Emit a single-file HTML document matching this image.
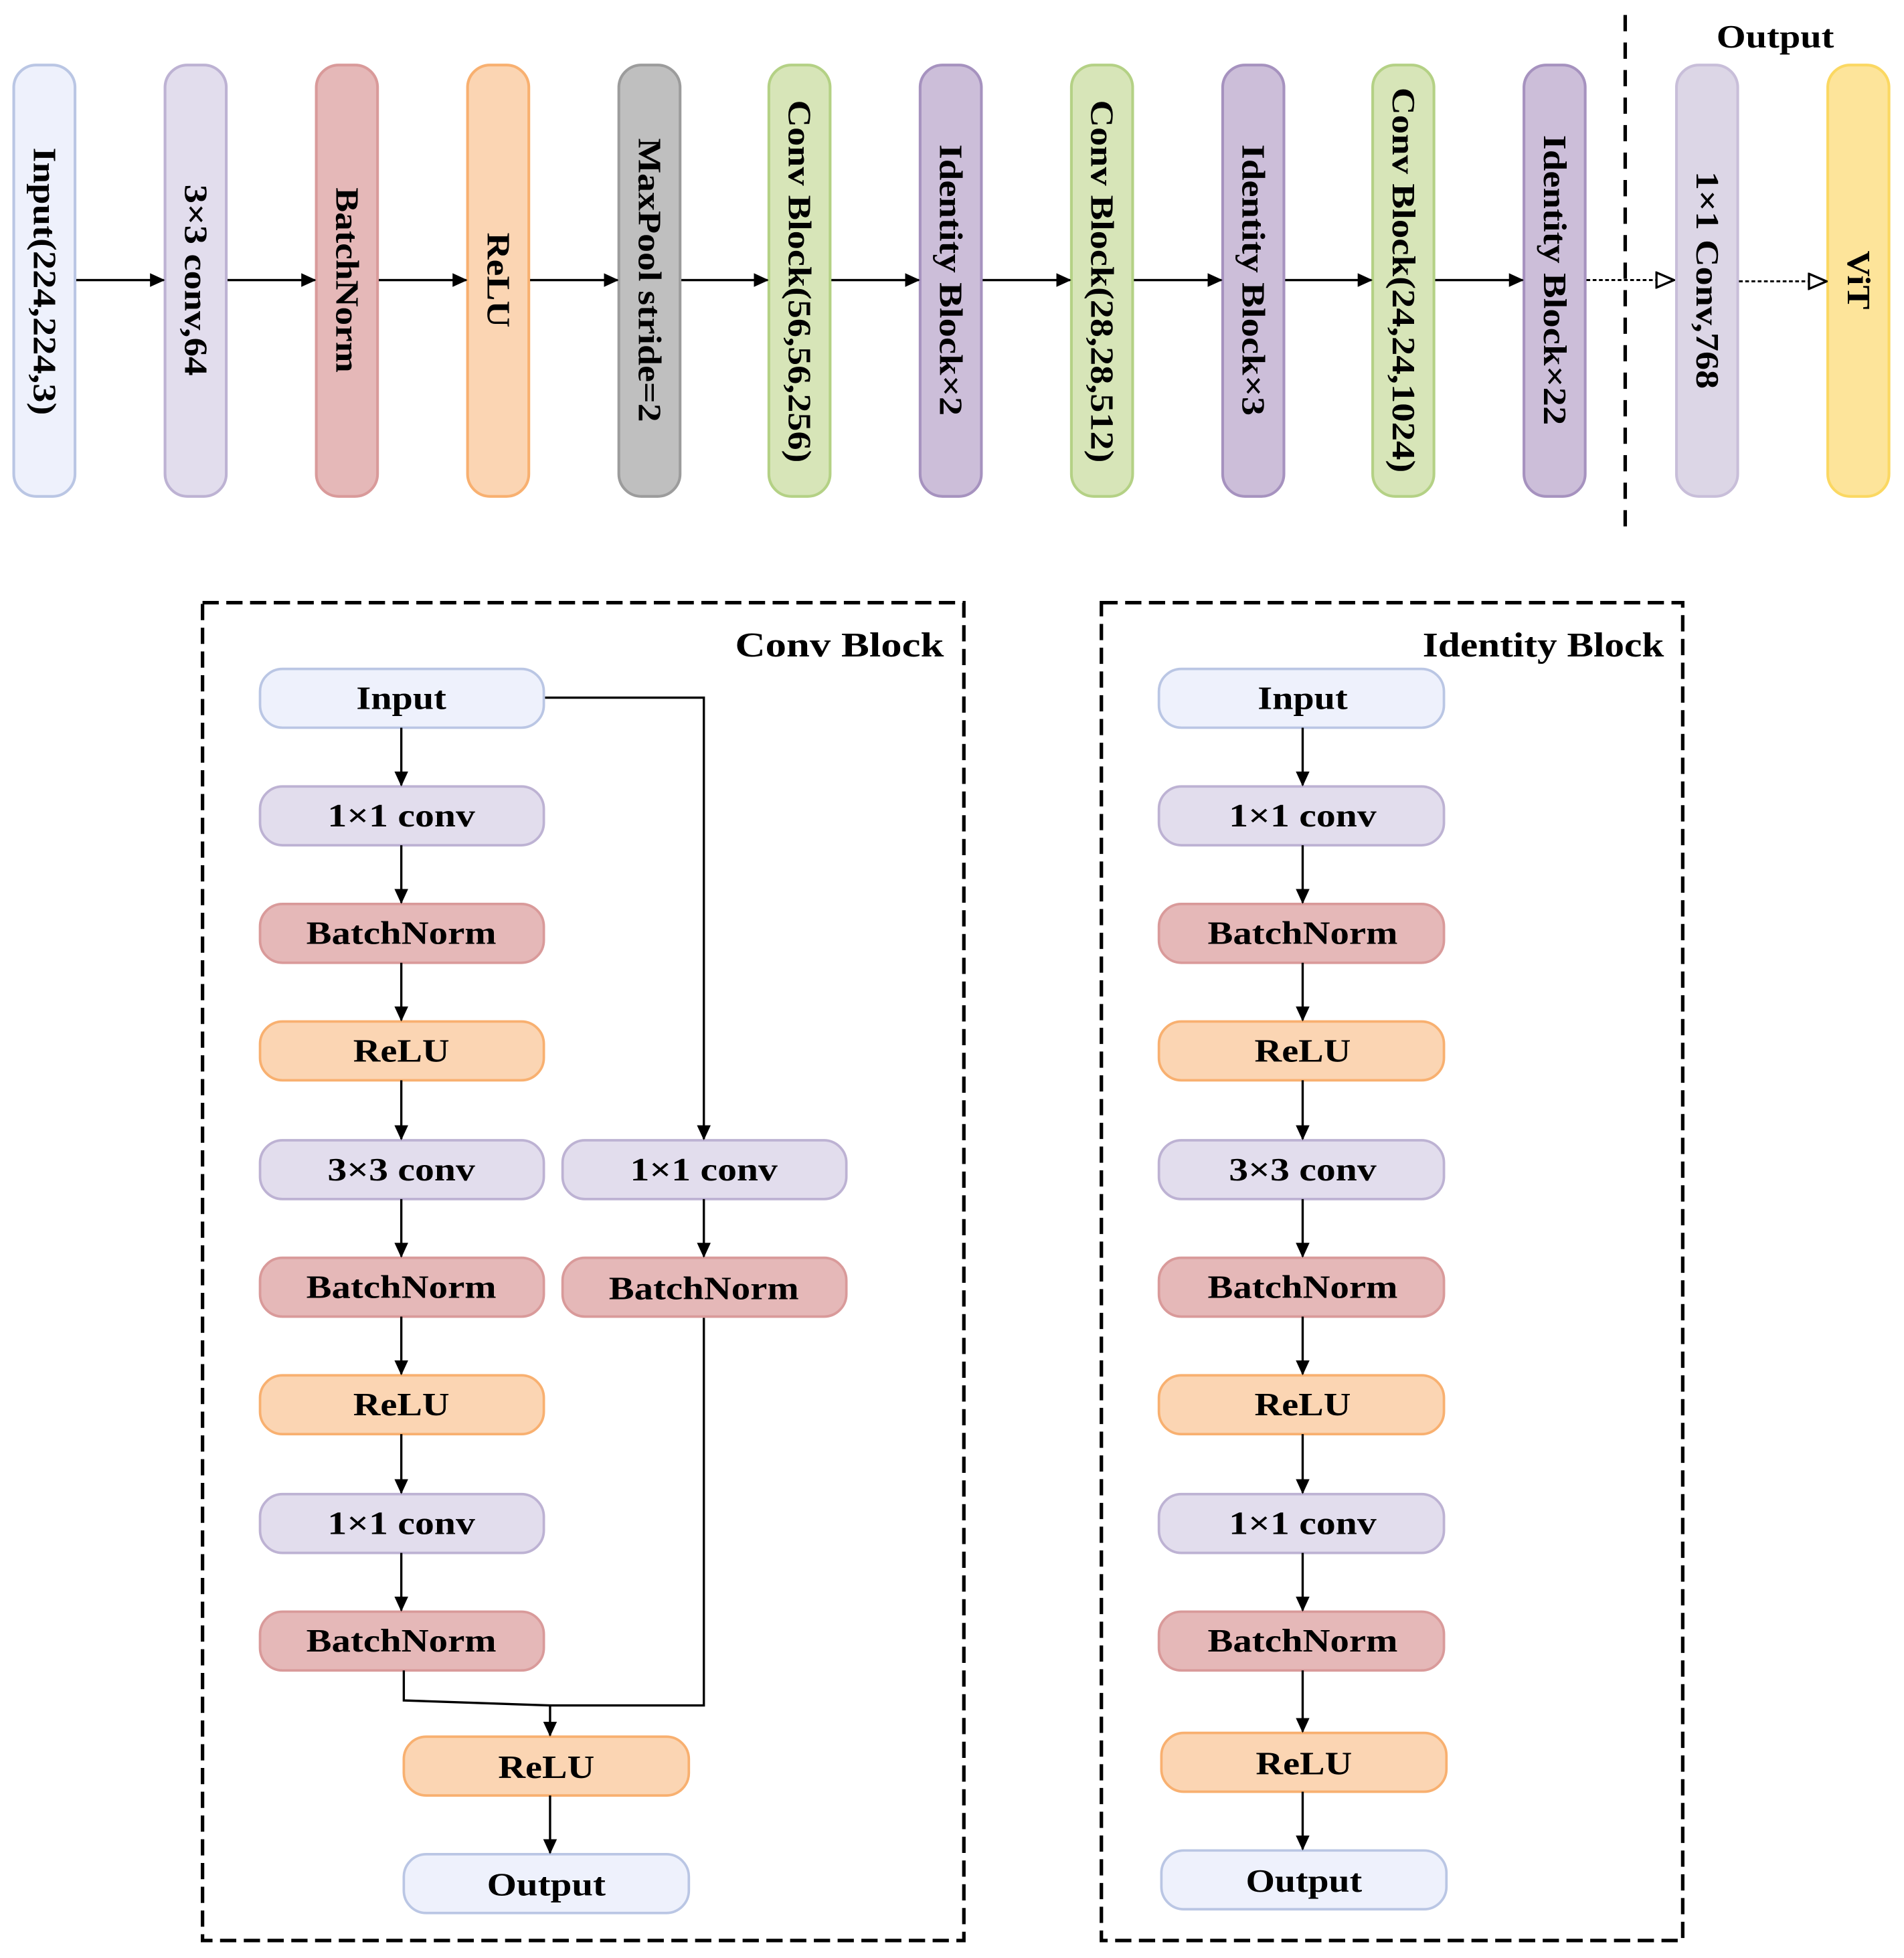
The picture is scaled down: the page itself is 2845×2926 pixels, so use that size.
<!DOCTYPE html>
<html><head><meta charset="utf-8"><style>
html,body{margin:0;padding:0;background:#fff}
svg{display:block}
text{font-family:"Liberation Serif",serif;font-weight:bold;fill:#000}
</style></head><body>
<svg width="2845" height="2926" viewBox="0 0 1523 1566" preserveAspectRatio="none" xmlns="http://www.w3.org/2000/svg">
<defs>
<marker id="a" markerWidth="12" markerHeight="12" refX="11" refY="6" orient="auto" markerUnits="userSpaceOnUse" viewBox="0 0 12 12"><path d="M0,0.5 L12,6 L0,11.5 z" fill="#000"/></marker>
<marker id="h" markerWidth="16" markerHeight="14" refX="15" refY="7" orient="auto" markerUnits="userSpaceOnUse" viewBox="0 0 16 14"><path d="M1,1 L15,7 L1,13 z" fill="#fff" stroke="#000" stroke-width="1.8"/></marker>
</defs>
<g stroke-width="2.2">
<rect x="11" y="52" width="49" height="345" rx="18" fill="#eef1fc" stroke="#bac6e4"/>
<rect x="132" y="52" width="49" height="345" rx="18" fill="#e2dded" stroke="#bdb2d3"/>
<rect x="253" y="52" width="49" height="345" rx="18" fill="#e5b8b8" stroke="#d99a9a"/>
<rect x="374" y="52" width="49" height="345" rx="18" fill="#fbd5b3" stroke="#f8b070"/>
<rect x="495" y="52" width="49" height="345" rx="18" fill="#bfbfbf" stroke="#9c9c9c"/>
<rect x="615" y="52" width="49" height="345" rx="18" fill="#d7e5b8" stroke="#b4d185"/>
<rect x="736" y="52" width="49" height="345" rx="18" fill="#ccbed9" stroke="#a692bf"/>
<rect x="857" y="52" width="49" height="345" rx="18" fill="#d7e5b8" stroke="#b4d185"/>
<rect x="978" y="52" width="49" height="345" rx="18" fill="#ccbed9" stroke="#a692bf"/>
<rect x="1098" y="52" width="49" height="345" rx="18" fill="#d7e5b8" stroke="#b4d185"/>
<rect x="1219" y="52" width="49" height="345" rx="18" fill="#ccbed9" stroke="#a692bf"/>
<rect x="1341" y="52" width="49" height="345" rx="18" fill="#dcd6e6" stroke="#c8bed9"/>
<rect x="1462" y="52" width="49" height="345" rx="18" fill="#fde49a" stroke="#fbd862"/>
</g>
<g stroke="#000" stroke-width="1.8" marker-end="url(#a)">
<line x1="61" y1="224" x2="131" y2="224"/>
<line x1="182" y1="224" x2="252" y2="224"/>
<line x1="303" y1="224" x2="373" y2="224"/>
<line x1="424" y1="224" x2="494" y2="224"/>
<line x1="545" y1="224" x2="614" y2="224"/>
<line x1="665" y1="224" x2="735" y2="224"/>
<line x1="786" y1="224" x2="856" y2="224"/>
<line x1="907" y1="224" x2="977" y2="224"/>
<line x1="1028" y1="224" x2="1097" y2="224"/>
<line x1="1148" y1="224" x2="1218" y2="224"/>
</g>
<g stroke="#000" stroke-width="1.6" stroke-dasharray="3,2" fill="none" marker-end="url(#h)">
<line x1="1269" y1="224" x2="1339" y2="224"/>
<line x1="1391" y1="225" x2="1461" y2="225"/>
</g>
<line x1="1300" y1="12" x2="1300" y2="425" stroke="#000" stroke-width="2.8" stroke-dasharray="13,9"/>
<text x="1420" y="38" font-size="26" text-anchor="middle" textLength="94" lengthAdjust="spacingAndGlyphs">Output</text>
<g font-size="26" text-anchor="middle" dominant-baseline="central">
<text transform="translate(35.5,225) rotate(90)" textLength="214" lengthAdjust="spacingAndGlyphs">Input(224,224,3)</text>
<text transform="translate(156.5,224) rotate(90)" textLength="153" lengthAdjust="spacingAndGlyphs">3×3 conv,64</text>
<text transform="translate(277.5,224) rotate(90)" textLength="148" lengthAdjust="spacingAndGlyphs">BatchNorm</text>
<text transform="translate(398.5,224) rotate(90)" textLength="76" lengthAdjust="spacingAndGlyphs">ReLU</text>
<text transform="translate(519.5,224) rotate(90)" textLength="227" lengthAdjust="spacingAndGlyphs">MaxPool stride=2</text>
<text transform="translate(639.5,225) rotate(90)" textLength="290" lengthAdjust="spacingAndGlyphs">Conv Block(56,56,256)</text>
<text transform="translate(760.5,224) rotate(90)" textLength="217" lengthAdjust="spacingAndGlyphs">Identity Block×2</text>
<text transform="translate(881.5,225) rotate(90)" textLength="290" lengthAdjust="spacingAndGlyphs">Conv Block(28,28,512)</text>
<text transform="translate(1002.5,224) rotate(90)" textLength="217" lengthAdjust="spacingAndGlyphs">Identity Block×3</text>
<text transform="translate(1122.5,224) rotate(90)" textLength="308" lengthAdjust="spacingAndGlyphs">Conv Block(24,24,1024)</text>
<text transform="translate(1243.5,224) rotate(90)" textLength="232" lengthAdjust="spacingAndGlyphs">Identity Block×22</text>
<text transform="translate(1365.5,224) rotate(90)" textLength="174" lengthAdjust="spacingAndGlyphs" font-weight="normal">1×1 Conv,768</text>
<text transform="translate(1486.5,224) rotate(90)" textLength="47" lengthAdjust="spacingAndGlyphs">ViT</text>
</g>

<!-- Conv Block -->
<rect x="162" y="482" width="609" height="1070" fill="none" stroke="#000" stroke-width="2.8" stroke-dasharray="13,6"/>
<text x="755" y="525" font-size="28" text-anchor="end" textLength="167" lengthAdjust="spacingAndGlyphs">Conv Block</text>
<g stroke-width="2">
<rect x="208" y="535" width="227" height="47" rx="18" fill="#eef1fc" stroke="#bac6e4"/>
<rect x="208" y="629" width="227" height="47" rx="18" fill="#e2dded" stroke="#bdb2d3"/>
<rect x="208" y="723" width="227" height="47" rx="18" fill="#e5b8b8" stroke="#d99a9a"/>
<rect x="208" y="817" width="227" height="47" rx="18" fill="#fbd5b3" stroke="#f8b070"/>
<rect x="208" y="912" width="227" height="47" rx="18" fill="#e2dded" stroke="#bdb2d3"/>
<rect x="208" y="1006" width="227" height="47" rx="18" fill="#e5b8b8" stroke="#d99a9a"/>
<rect x="208" y="1100" width="227" height="47" rx="18" fill="#fbd5b3" stroke="#f8b070"/>
<rect x="208" y="1195" width="227" height="47" rx="18" fill="#e2dded" stroke="#bdb2d3"/>
<rect x="208" y="1289" width="227" height="47" rx="18" fill="#e5b8b8" stroke="#d99a9a"/>
<rect x="450" y="912" width="227" height="47" rx="18" fill="#e2dded" stroke="#bdb2d3"/>
<rect x="450" y="1006" width="227" height="47" rx="18" fill="#e5b8b8" stroke="#d99a9a"/>
<rect x="323" y="1389" width="228" height="47" rx="18" fill="#fbd5b3" stroke="#f8b070"/>
<rect x="323" y="1483" width="228" height="47" rx="18" fill="#eef1fc" stroke="#bac6e4"/>
</g>
<g stroke="#000" stroke-width="1.8" fill="none" marker-end="url(#a)">
<line x1="321" y1="582" x2="321" y2="628"/>
<line x1="321" y1="676" x2="321" y2="722"/>
<line x1="321" y1="770" x2="321" y2="816"/>
<line x1="321" y1="864" x2="321" y2="911"/>
<line x1="321" y1="959" x2="321" y2="1005"/>
<line x1="321" y1="1053" x2="321" y2="1099"/>
<line x1="321" y1="1147" x2="321" y2="1194"/>
<line x1="321" y1="1242" x2="321" y2="1288"/>
<polyline points="436,558 563,558 563,911"/>
<line x1="563" y1="959" x2="563" y2="1005"/>
<line x1="440" y1="1364" x2="440" y2="1388"/>
<line x1="440" y1="1436" x2="440" y2="1482"/>
</g>
<polyline points="323,1336 323,1360 440,1364 563,1364 563,1054" fill="none" stroke="#000" stroke-width="1.8"/>
<g font-size="26" text-anchor="middle">
<text x="321" y="567" textLength="72" lengthAdjust="spacingAndGlyphs">Input</text>
<text x="321" y="661" textLength="118" lengthAdjust="spacingAndGlyphs">1×1 conv</text>
<text x="321" y="755" textLength="152" lengthAdjust="spacingAndGlyphs">BatchNorm</text>
<text x="321" y="849" textLength="77" lengthAdjust="spacingAndGlyphs">ReLU</text>
<text x="321" y="944" textLength="118" lengthAdjust="spacingAndGlyphs">3×3 conv</text>
<text x="321" y="1038" textLength="152" lengthAdjust="spacingAndGlyphs">BatchNorm</text>
<text x="321" y="1132" textLength="77" lengthAdjust="spacingAndGlyphs">ReLU</text>
<text x="321" y="1227" textLength="118" lengthAdjust="spacingAndGlyphs">1×1 conv</text>
<text x="321" y="1321" textLength="152" lengthAdjust="spacingAndGlyphs">BatchNorm</text>
<text x="563" y="944" textLength="118" lengthAdjust="spacingAndGlyphs">1×1 conv</text>
<text x="563" y="1039" textLength="152" lengthAdjust="spacingAndGlyphs">BatchNorm</text>
<text x="437" y="1422" textLength="77" lengthAdjust="spacingAndGlyphs">ReLU</text>
<text x="437" y="1516" textLength="95" lengthAdjust="spacingAndGlyphs">Output</text>
</g>

<!-- Identity Block -->
<rect x="881" y="482" width="465" height="1070" fill="none" stroke="#000" stroke-width="2.8" stroke-dasharray="13,6"/>
<text x="1331" y="525" font-size="28" text-anchor="end" textLength="193" lengthAdjust="spacingAndGlyphs">Identity Block</text>
<g stroke-width="2">
<rect x="927" y="535" width="228" height="47" rx="18" fill="#eef1fc" stroke="#bac6e4"/>
<rect x="927" y="629" width="228" height="47" rx="18" fill="#e2dded" stroke="#bdb2d3"/>
<rect x="927" y="723" width="228" height="47" rx="18" fill="#e5b8b8" stroke="#d99a9a"/>
<rect x="927" y="817" width="228" height="47" rx="18" fill="#fbd5b3" stroke="#f8b070"/>
<rect x="927" y="912" width="228" height="47" rx="18" fill="#e2dded" stroke="#bdb2d3"/>
<rect x="927" y="1006" width="228" height="47" rx="18" fill="#e5b8b8" stroke="#d99a9a"/>
<rect x="927" y="1100" width="228" height="47" rx="18" fill="#fbd5b3" stroke="#f8b070"/>
<rect x="927" y="1195" width="228" height="47" rx="18" fill="#e2dded" stroke="#bdb2d3"/>
<rect x="927" y="1289" width="228" height="47" rx="18" fill="#e5b8b8" stroke="#d99a9a"/>
<rect x="929" y="1386" width="228" height="47" rx="18" fill="#fbd5b3" stroke="#f8b070"/>
<rect x="929" y="1480" width="228" height="47" rx="18" fill="#eef1fc" stroke="#bac6e4"/>
</g>
<g stroke="#000" stroke-width="1.8" marker-end="url(#a)">
<line x1="1042" y1="582" x2="1042" y2="628"/>
<line x1="1042" y1="676" x2="1042" y2="722"/>
<line x1="1042" y1="770" x2="1042" y2="816"/>
<line x1="1042" y1="864" x2="1042" y2="911"/>
<line x1="1042" y1="959" x2="1042" y2="1005"/>
<line x1="1042" y1="1053" x2="1042" y2="1099"/>
<line x1="1042" y1="1147" x2="1042" y2="1194"/>
<line x1="1042" y1="1242" x2="1042" y2="1288"/>
<line x1="1042" y1="1336" x2="1042" y2="1385"/>
<line x1="1042" y1="1433" x2="1042" y2="1479"/>
</g>
<g font-size="26" text-anchor="middle">
<text x="1042" y="567" textLength="72" lengthAdjust="spacingAndGlyphs">Input</text>
<text x="1042" y="661" textLength="118" lengthAdjust="spacingAndGlyphs">1×1 conv</text>
<text x="1042" y="755" textLength="152" lengthAdjust="spacingAndGlyphs">BatchNorm</text>
<text x="1042" y="849" textLength="77" lengthAdjust="spacingAndGlyphs">ReLU</text>
<text x="1042" y="944" textLength="118" lengthAdjust="spacingAndGlyphs">3×3 conv</text>
<text x="1042" y="1038" textLength="152" lengthAdjust="spacingAndGlyphs">BatchNorm</text>
<text x="1042" y="1132" textLength="77" lengthAdjust="spacingAndGlyphs">ReLU</text>
<text x="1042" y="1227" textLength="118" lengthAdjust="spacingAndGlyphs">1×1 conv</text>
<text x="1042" y="1321" textLength="152" lengthAdjust="spacingAndGlyphs">BatchNorm</text>
<text x="1043" y="1419" textLength="77" lengthAdjust="spacingAndGlyphs">ReLU</text>
<text x="1043" y="1513" textLength="93" lengthAdjust="spacingAndGlyphs">Output</text>
</g>
</svg>
</body></html>
